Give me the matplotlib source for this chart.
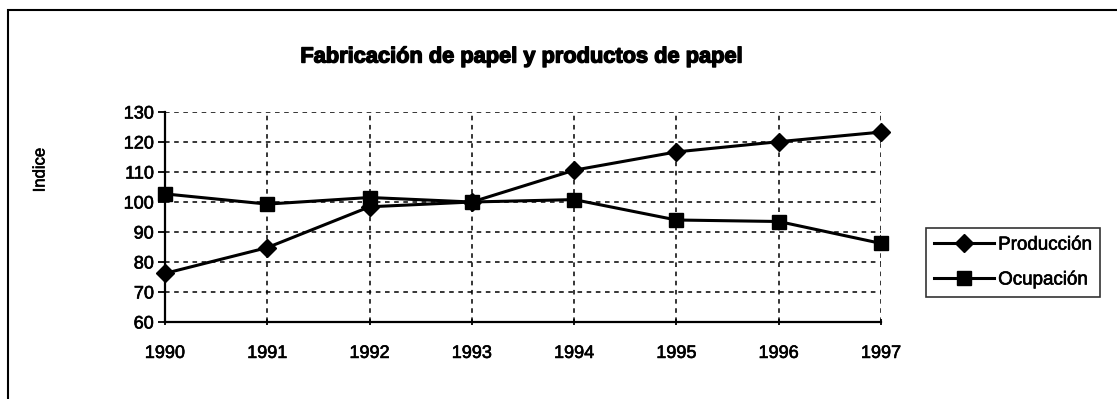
import numpy as np
import matplotlib.pyplot as plt
import matplotlib.patheffects as pe
from matplotlib.patches import Rectangle

plt.rcParams["font.family"] = ["Liberation Sans", "DejaVu Sans"]

# index values, 1993 = 100
years = [1990, 1991, 1992, 1993, 1994, 1995, 1996, 1997]
produccion = [76.2, 84.8, 98.4, 100.0, 110.6, 116.7, 120.1, 123.3]
ocupacion = [102.7, 99.3, 101.5, 100.0, 100.8, 94.0, 93.5, 86.2]
y_ticks = [60, 70, 80, 90, 100, 110, 120, 130]

W, H = 1117, 399
fig = plt.figure(figsize=(W / 100, H / 100), dpi=100)

# heavier text strokes
thick = [pe.withStroke(linewidth=0.45, foreground="black")]

# chart border (only left and top edges fall inside the image)
fig.patches.append(
    Rectangle((8 / W, -0.1), 1.2, 1 - 10 / H + 0.1, transform=fig.transFigure,
              fill=False, edgecolor="black", linewidth=1.5)
)

ax = fig.add_axes([165 / W, 1 - 322 / H, (881 - 165) / W, (322 - 112) / H])

ax.plot(years, produccion, color="black", linewidth=2.2, marker="D",
        markersize=9.5, label="Producción", clip_on=False, zorder=4)
ax.plot(years, ocupacion, color="black", linewidth=2.2, marker="s",
        markersize=9.5, label="Ocupación", clip_on=False, zorder=4)

ax.set_xlim(years[0], years[-1])
ax.set_ylim(60, 130)
ax.set_xticks(years)
ax.set_yticks(y_ticks)
ax.tick_params(axis="both", labelsize=13, length=5, width=1.3, direction="inout")
ax.tick_params(axis="x", pad=14)
ax.tick_params(axis="y", direction="out", pad=3)
for lab in ax.get_xticklabels() + ax.get_yticklabels():
    lab.set_path_effects(thick)

ax.grid(True, color="black", linestyle=(0, (3, 3)), linewidth=1.1)
for side in ["top", "right"]:
    ax.spines[side].set_visible(False)
for side in ["left", "bottom"]:
    ax.spines[side].set_linewidth(1.6)
ax.set_axisbelow(True)

fig.text(40 / W, 1 - 170 / H, "Indice", rotation=90, ha="center",
         va="center", fontsize=12, path_effects=thick)
fig.text(521 / W, 1 - 57 / H, "Fabricación de papel y productos de papel",
         ha="center", va="center", fontsize=15.7, fontweight="bold",
         path_effects=[pe.withStroke(linewidth=1.0, foreground="black")])

leg = fig.legend(loc="upper left", bbox_to_anchor=(926 / W, 1 - 228 / H),
                 fontsize=13.5, frameon=True, fancybox=False, handlelength=3.2,
                 handletextpad=0.2, borderpad=0.45, labelspacing=0.95,
                 borderaxespad=0)
leg.get_frame().set_edgecolor("black")
leg.get_frame().set_linewidth(1.2)
for t in leg.get_texts():
    t.set_path_effects(thick)

fig.savefig("out.png", dpi=100)
